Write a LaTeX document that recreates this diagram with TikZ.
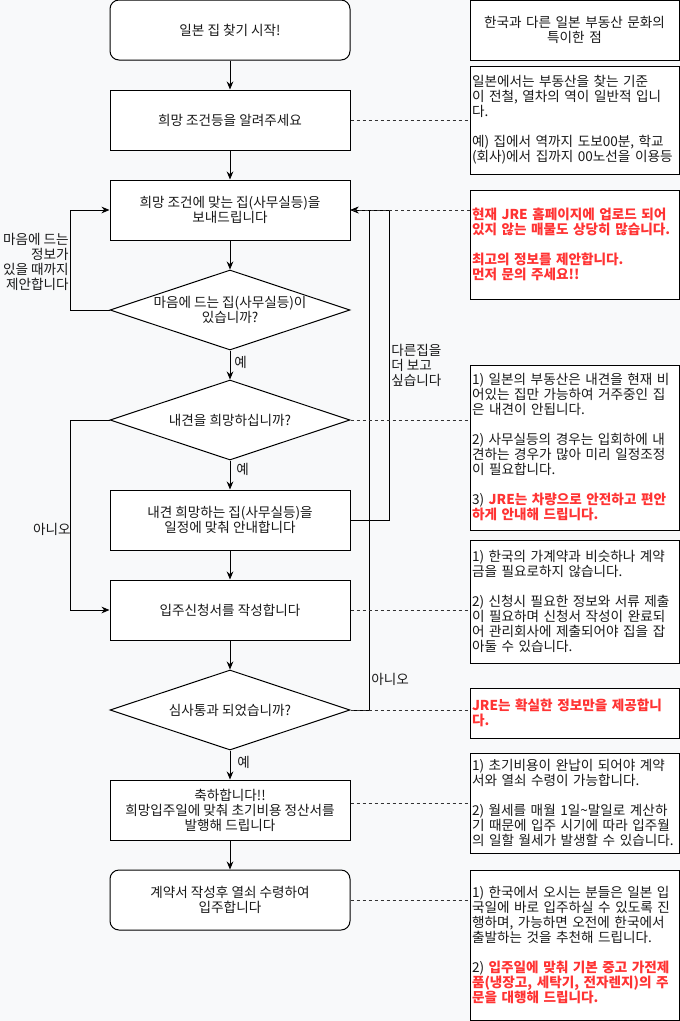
\documentclass[tikz,border=0pt]{standalone}
\usepackage{fontspec}
\setmainfont{Noto Sans CJK KR}
\usetikzlibrary{arrows.meta,shapes.geometric}
\definecolor{bg}{RGB}{248,249,250}
\definecolor{jred}{RGB}{255,51,51}
\definecolor{txt}{RGB}{25,25,25}
\newcommand{\rd}[1]{\textcolor{jred}{\textbf{#1}}}
\begin{document}
\begin{tikzpicture}[x=0.75pt,y=-0.75pt,
  every node/.style={font=\fontsize{10.2}{11.25}\selectfont, text=txt},
  box/.style={draw, line width=0.75pt, fill=white, minimum width=180pt, minimum height=45pt, align=center, inner sep=0pt},
  rbox/.style={box, rounded corners=6.75pt},
  decision/.style={diamond, draw, line width=0.75pt, fill=white, minimum width=180pt, minimum height=60pt, inner sep=0pt, aspect=3},
  note/.style={draw, line width=0.75pt, fill=white, text width=153.75pt, inner xsep=1.5pt, inner ysep=0pt, align=left},
  arr/.style={-{Stealth[length=6pt,width=5pt]}, line width=0.75pt},
  dsh/.style={dash pattern=on 2.25pt off 2.25pt, line width=0.75pt, draw=black!80},
  lbl/.style={inner sep=0pt}
]
\fill[bg] (0,0) rectangle (680,1021);
\useasboundingbox (0,0) rectangle (680,1021);

% main flow
\node[rbox] (start) at (230,30) {일본 집 찾기 시작!};
\node[box] (b2) at (230,120) {희망 조건등을 알려주세요};
\node[box] (b3) at (230,210) {희망 조건에 맞는 집(사무실등)을\\보내드립니다};
\node[decision, label={[align=center]center:{마음에 드는 집(사무실등)이\\있습니까?}}] (d1) at (230,310) {};
\node[decision, label={[align=center]center:{내견을 희망하십니까?}}] (d2) at (230,420) {};
\node[box] (b4) at (230,520) {내견 희망하는 집(사무실등)을\\일정에 맞춰 안내합니다};
\node[box] (b5) at (230,610) {입주신청서를 작성합니다};
\node[decision, label={[align=center]center:{심사통과 되었습니까?}}] (d3) at (230,710) {};
\node[box] (b6) at (230,810) {축하합니다!!\\희망입주일에 맞춰 초기비용 정산서를\\발행해 드립니다};
\node[rbox] (b7) at (230,900) {계약서 작성후 열쇠 수령하여\\입주합니다};

% notes
\node[note, align=center, minimum height=45pt] (r1) at (574.5,30) {한국과 다른 일본 부동산 문화의\\특이한 점};
\node[note, minimum height=81pt] (r2) at (574.5,120) {일본에서는 부동산을 찾는 기준\\이 전철, 열차의 역이 일반적 입니\\다.\\[11.25pt]예) 집에서 역까지 도보00분, 학교\\(회사)에서 집까지 00노선을 이용등};
\node[note, minimum height=81.75pt] (r3) at (574.5,244.5) {\rd{현재 JRE 홈페이지에 업로드 되어}\\\rd{있지 않는 매물도 상당히 많습니다.}\\[11.25pt]\rd{최고의 정보를 제안합니다.}\\\rd{먼저 문의 주세요!!}};
\node[note, minimum height=123.75pt] (r4) at (574.5,447.5) {1) 일본의 부동산은 내견을 현재 비\\어있는 집만 가능하여 거주중인 집\\은 내견이 안됩니다.\\[11.25pt]2) 사무실등의 경우는 입회하에 내\\견하는 경우가 많아 미리 일정조정\\이 필요합니다.\\[11.25pt]3) \rd{JRE는 차량으로 안전하고 편안}\\\rd{하게 안내해 드립니다.}};
\node[note, minimum height=92.25pt] (r5) at (574.5,601.5) {1) 한국의 가계약과 비슷하나 계약\\금을 필요로하지 않습니다.\\[11.25pt]2) 신청시 필요한 정보와 서류 제출\\이 필요하며 신청서 작성이 완료되\\어 관리회사에 제출되어야 집을 잡\\아둘 수 있습니다.};
\node[note, minimum height=37.5pt] (r6) at (574.5,713) {\rd{JRE는 확실한 정보만을 제공합니}\\\rd{다.}};
\node[note, minimum height=75pt] (r7) at (574.5,803) {1) 초기비용이 완납이 되어야 계약\\서와 열쇠 수령이 가능합니다.\\[11.25pt]2) 월세를 매월 1일\textasciitilde 말일로 계산하\\기 때문에 입주 시기에 따라 입주월\\의 일할 월세가 발생할 수 있습니다.};
\node[note, minimum height=112.5pt] (r8) at (574.5,945) {1) 한국에서 오시는 분들은 일본 입\\국일에 바로 입주하실 수 있도록 진\\행하며, 가능하면 오전에 한국에서\\출발하는 것을 추천해 드립니다.\\[11.25pt]2) \rd{입주일에 맞춰 기본 중고 가전제}\\\rd{품(냉장고, 세탁기, 전자렌지)의 주}\\\rd{문을 대행해 드립니다.}};

% loop coordinates
\coordinate (lx) at (70,0);
\coordinate (rxa) at (369,0);
\coordinate (rxb) at (389,0);

% main arrows
\draw[arr] (start) -- (b2);
\draw[arr] (b2) -- (b3);
\draw[arr] (b3) -- (d1);
\draw[arr] (d1) -- (d2);
\draw[arr] (d2) -- (b4);
\draw[arr] (b4) -- (b5);
\draw[arr] (b5) -- (d3);
\draw[arr] (d3) -- (b6);
\draw[arr] (b6) -- (b7);

% loops
\draw[arr] (d1.west) -- (d1.west -| lx) -- (b3.west -| lx) -- (b3.west);
\draw[arr] (d2.west) -- (d2.west -| lx) -- (b5.west -| lx) -- (b5.west);
\draw[arr] (d3.east) -- (d3.east -| rxa) -- (b3.east -| rxa) -- (b3.east);
\draw[arr] (b4.east) -- (b4.east -| rxb) -- (b3.east -| rxb) -- (b3.east);

% dashed links
\draw[dsh] (b2.east) -- (b2.east -| r2.west);
\draw[dsh] (b3.east -| r3.west) -- (b3.east);
\draw[dsh] (d2.east) -- (d2.east -| r4.west);
\draw[dsh] (b5.east) -- (b5.east -| r5.west);
\draw[dsh] (d3.east) -- (d3.east -| r6.west);
\draw[dsh] (r7.west -| b6.east) -- (r7.west);
\draw[dsh] (b7.east) -- (b7.east -| r8.west);

% labels
\node[lbl, anchor=west] (y1) at (234,362) {예};
\node[lbl, anchor=west] (y2) at (236,469) {예};
\node[lbl, anchor=west] (y3) at (237,762) {예};
\node[lbl, anchor=east, align=right] (lp1) at (69,262) {마음에 드는\\정보가\\있을 때까지\\제안합니다};
\node[lbl, anchor=east] (no1) at (71,529) {아니오};
\node[lbl, anchor=west, align=left] (lp2) at (391,365) {다른집을\\더 보고\\싶습니다};
\node[lbl, anchor=west] (no2) at (371,679) {아니오};
\end{tikzpicture}
\end{document}
